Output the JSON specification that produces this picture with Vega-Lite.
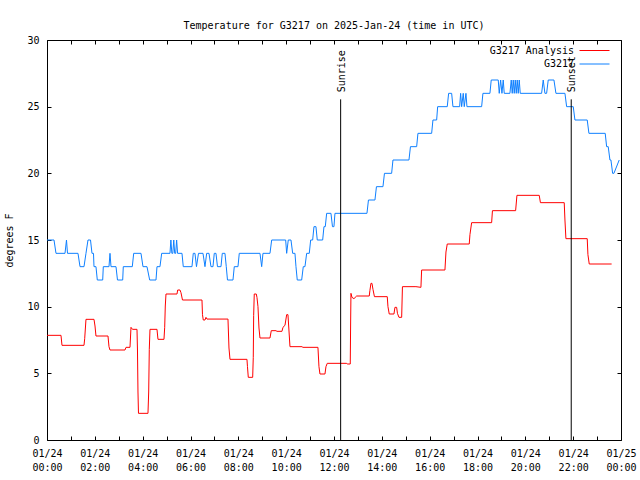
{
"$schema": "https://vega.github.io/schema/vega-lite/v6.json",
"autosize": {"type": "none"},
"width": 574, "height": 400,
"padding": {"left": 47, "top": 40, "right": 19, "bottom": 40},
"background": "white",
"title": {"text": "Temperature for G3217 on 2025-Jan-24 (time in UTC)", "font": "DejaVu Sans Mono", "fontSize": 10, "fontWeight": "normal", "color": "black", "anchor": "middle", "offset": 4},
"config": {
  "view": {"stroke": "black", "strokeWidth": 1},
  "axis": {"domain": false, "grid": false, "labelFont": "DejaVu Sans Mono", "labelFontSize": 10, "labelColor": "black", "tickColor": "black", "titleFont": "DejaVu Sans Mono", "titleFontSize": 10, "titleFontWeight": "normal", "titleColor": "black"}
},
"datasets": {
  "obs": [
{"s":"G3217","h":0,"t":15},{"s":"G3217","h":0.293,"t":15},{"s":"G3217","h":0.376,"t":14},{"s":"G3217","h":0.753,"t":14},{"s":"G3217","h":0.815,"t":15},{"s":"G3217","h":0.857,"t":14},{"s":"G3217","h":1.296,"t":14},{"s":"G3217","h":1.38,"t":13},{"s":"G3217","h":1.547,"t":13},{"s":"G3217","h":1.63,"t":14},{"s":"G3217","h":1.714,"t":15},{"s":"G3217","h":1.819,"t":15},{"s":"G3217","h":1.881,"t":14},{"s":"G3217","h":1.944,"t":14},{"s":"G3217","h":1.965,"t":13},{"s":"G3217","h":2.048,"t":13},{"s":"G3217","h":2.103,"t":12},{"s":"G3217","h":2.329,"t":12},{"s":"G3217","h":2.354,"t":13},{"s":"G3217","h":2.592,"t":13},{"s":"G3217","h":2.634,"t":14},{"s":"G3217","h":2.676,"t":13},{"s":"G3217","h":2.885,"t":13},{"s":"G3217","h":2.947,"t":12},{"s":"G3217","h":3.165,"t":12},{"s":"G3217","h":3.19,"t":13},{"s":"G3217","h":3.566,"t":13},{"s":"G3217","h":3.625,"t":14},{"s":"G3217","h":3.93,"t":14},{"s":"G3217","h":4.013,"t":13},{"s":"G3217","h":4.181,"t":13},{"s":"G3217","h":4.293,"t":12},{"s":"G3217","h":4.557,"t":12},{"s":"G3217","h":4.599,"t":13},{"s":"G3217","h":4.724,"t":13},{"s":"G3217","h":4.795,"t":14},{"s":"G3217","h":5.142,"t":14},{"s":"G3217","h":5.18,"t":15},{"s":"G3217","h":5.22,"t":14},{"s":"G3217","h":5.26,"t":14},{"s":"G3217","h":5.3,"t":15},{"s":"G3217","h":5.34,"t":14},{"s":"G3217","h":5.38,"t":14},{"s":"G3217","h":5.42,"t":15},{"s":"G3217","h":5.46,"t":14},{"s":"G3217","h":5.644,"t":14},{"s":"G3217","h":5.698,"t":13},{"s":"G3217","h":6.062,"t":13},{"s":"G3217","h":6.116,"t":14},{"s":"G3217","h":6.187,"t":14},{"s":"G3217","h":6.25,"t":13},{"s":"G3217","h":6.334,"t":14},{"s":"G3217","h":6.522,"t":14},{"s":"G3217","h":6.605,"t":13},{"s":"G3217","h":6.676,"t":14},{"s":"G3217","h":6.773,"t":14},{"s":"G3217","h":6.856,"t":13},{"s":"G3217","h":6.94,"t":13},{"s":"G3217","h":6.994,"t":14},{"s":"G3217","h":7.065,"t":14},{"s":"G3217","h":7.128,"t":13},{"s":"G3217","h":7.274,"t":13},{"s":"G3217","h":7.329,"t":14},{"s":"G3217","h":7.441,"t":14},{"s":"G3217","h":7.496,"t":13},{"s":"G3217","h":7.546,"t":12},{"s":"G3217","h":7.776,"t":12},{"s":"G3217","h":7.83,"t":13},{"s":"G3217","h":7.985,"t":13},{"s":"G3217","h":8.039,"t":14},{"s":"G3217","h":8.905,"t":14},{"s":"G3217","h":8.976,"t":13},{"s":"G3217","h":9.03,"t":14},{"s":"G3217","h":9.323,"t":14},{"s":"G3217","h":9.394,"t":15},{"s":"G3217","h":9.979,"t":15},{"s":"G3217","h":10.021,"t":14},{"s":"G3217","h":10.088,"t":15},{"s":"G3217","h":10.201,"t":15},{"s":"G3217","h":10.272,"t":14},{"s":"G3217","h":10.368,"t":14},{"s":"G3217","h":10.41,"t":13},{"s":"G3217","h":10.464,"t":12},{"s":"G3217","h":10.648,"t":12},{"s":"G3217","h":10.715,"t":13},{"s":"G3217","h":10.786,"t":13},{"s":"G3217","h":10.857,"t":14},{"s":"G3217","h":10.966,"t":14},{"s":"G3217","h":11.024,"t":15},{"s":"G3217","h":11.108,"t":15},{"s":"G3217","h":11.162,"t":16},{"s":"G3217","h":11.246,"t":16},{"s":"G3217","h":11.3,"t":15},{"s":"G3217","h":11.526,"t":15},{"s":"G3217","h":11.58,"t":16},{"s":"G3217","h":11.635,"t":16},{"s":"G3217","h":11.693,"t":17},{"s":"G3217","h":11.873,"t":17},{"s":"G3217","h":11.936,"t":16},{"s":"G3217","h":11.998,"t":16},{"s":"G3217","h":12.04,"t":17},{"s":"G3217","h":13.378,"t":17},{"s":"G3217","h":13.441,"t":18},{"s":"G3217","h":13.712,"t":18},{"s":"G3217","h":13.775,"t":19},{"s":"G3217","h":14.047,"t":19},{"s":"G3217","h":14.11,"t":20},{"s":"G3217","h":14.41,"t":20},{"s":"G3217","h":14.465,"t":21},{"s":"G3217","h":15.134,"t":21},{"s":"G3217","h":15.197,"t":22},{"s":"G3217","h":15.456,"t":22},{"s":"G3217","h":15.51,"t":23},{"s":"G3217","h":16.083,"t":23},{"s":"G3217","h":16.137,"t":24},{"s":"G3217","h":16.292,"t":24},{"s":"G3217","h":16.334,"t":25},{"s":"G3217","h":16.735,"t":25},{"s":"G3217","h":16.793,"t":26},{"s":"G3217","h":16.919,"t":26},{"s":"G3217","h":16.973,"t":25},{"s":"G3217","h":17.253,"t":25},{"s":"G3217","h":17.295,"t":26},{"s":"G3217","h":17.337,"t":25},{"s":"G3217","h":17.404,"t":26},{"s":"G3217","h":17.446,"t":25},{"s":"G3217","h":17.517,"t":26},{"s":"G3217","h":17.559,"t":25},{"s":"G3217","h":18.173,"t":25},{"s":"G3217","h":18.227,"t":26},{"s":"G3217","h":18.52,"t":26},{"s":"G3217","h":18.574,"t":27},{"s":"G3217","h":18.867,"t":27},{"s":"G3217","h":18.909,"t":26},{"s":"G3217","h":18.967,"t":27},{"s":"G3217","h":19.022,"t":26},{"s":"G3217","h":19.076,"t":27},{"s":"G3217","h":19.118,"t":26},{"s":"G3217","h":19.356,"t":26},{"s":"G3217","h":19.411,"t":27},{"s":"G3217","h":19.452,"t":26},{"s":"G3217","h":19.494,"t":27},{"s":"G3217","h":19.536,"t":26},{"s":"G3217","h":19.578,"t":27},{"s":"G3217","h":19.62,"t":26},{"s":"G3217","h":19.661,"t":27},{"s":"G3217","h":19.703,"t":26},{"s":"G3217","h":19.745,"t":27},{"s":"G3217","h":19.787,"t":26},{"s":"G3217","h":20.681,"t":26},{"s":"G3217","h":20.748,"t":27},{"s":"G3217","h":20.819,"t":26},{"s":"G3217","h":20.89,"t":26},{"s":"G3217","h":20.957,"t":27},{"s":"G3217","h":21.196,"t":27},{"s":"G3217","h":21.279,"t":26},{"s":"G3217","h":21.656,"t":26},{"s":"G3217","h":21.727,"t":25},{"s":"G3217","h":22.003,"t":25},{"s":"G3217","h":22.074,"t":24},{"s":"G3217","h":22.588,"t":24},{"s":"G3217","h":22.659,"t":23},{"s":"G3217","h":23.34,"t":23},{"s":"G3217","h":23.399,"t":22},{"s":"G3217","h":23.466,"t":22},{"s":"G3217","h":23.537,"t":21},{"s":"G3217","h":23.579,"t":21},{"s":"G3217","h":23.65,"t":20},{"s":"G3217","h":23.704,"t":20},{"s":"G3217","h":23.926,"t":21},
{"s":"G3217 Analysis","h":0,"t":7.85},{"s":"G3217 Analysis","h":0.585,"t":7.85},{"s":"G3217 Analysis","h":0.627,"t":7.1},{"s":"G3217 Analysis","h":1.547,"t":7.1},{"s":"G3217 Analysis","h":1.576,"t":7.6},{"s":"G3217 Analysis","h":1.63,"t":9.05},{"s":"G3217 Analysis","h":1.965,"t":9.05},{"s":"G3217 Analysis","h":2.007,"t":8.55},{"s":"G3217 Analysis","h":2.048,"t":7.8},{"s":"G3217 Analysis","h":2.55,"t":7.8},{"s":"G3217 Analysis","h":2.592,"t":7.0},{"s":"G3217 Analysis","h":2.634,"t":6.75},{"s":"G3217 Analysis","h":3.261,"t":6.75},{"s":"G3217 Analysis","h":3.303,"t":6.95},{"s":"G3217 Analysis","h":3.47,"t":6.95},{"s":"G3217 Analysis","h":3.512,"t":8.45},{"s":"G3217 Analysis","h":3.574,"t":8.3},{"s":"G3217 Analysis","h":3.763,"t":8.3},{"s":"G3217 Analysis","h":3.783,"t":6.75},{"s":"G3217 Analysis","h":3.804,"t":3.6},{"s":"G3217 Analysis","h":3.825,"t":2.0},{"s":"G3217 Analysis","h":4.222,"t":2.0},{"s":"G3217 Analysis","h":4.252,"t":3.6},{"s":"G3217 Analysis","h":4.277,"t":6.8},{"s":"G3217 Analysis","h":4.306,"t":8.3},{"s":"G3217 Analysis","h":4.599,"t":8.3},{"s":"G3217 Analysis","h":4.64,"t":7.55},{"s":"G3217 Analysis","h":4.891,"t":7.55},{"s":"G3217 Analysis","h":4.921,"t":8.45},{"s":"G3217 Analysis","h":4.946,"t":10.05},{"s":"G3217 Analysis","h":4.975,"t":10.95},{"s":"G3217 Analysis","h":5.435,"t":10.95},{"s":"G3217 Analysis","h":5.464,"t":11.25},{"s":"G3217 Analysis","h":5.56,"t":11.25},{"s":"G3217 Analysis","h":5.602,"t":11.05},{"s":"G3217 Analysis","h":5.665,"t":10.5},{"s":"G3217 Analysis","h":6.48,"t":10.5},{"s":"G3217 Analysis","h":6.501,"t":9.4},{"s":"G3217 Analysis","h":6.534,"t":9.0},{"s":"G3217 Analysis","h":6.605,"t":9.0},{"s":"G3217 Analysis","h":6.647,"t":9.2},{"s":"G3217 Analysis","h":6.689,"t":9.07},{"s":"G3217 Analysis","h":7.567,"t":9.07},{"s":"G3217 Analysis","h":7.609,"t":6.9},{"s":"G3217 Analysis","h":7.651,"t":6.05},{"s":"G3217 Analysis","h":8.361,"t":6.05},{"s":"G3217 Analysis","h":8.382,"t":5.5},{"s":"G3217 Analysis","h":8.416,"t":4.7},{"s":"G3217 Analysis","h":8.6,"t":4.7},{"s":"G3217 Analysis","h":8.625,"t":6.2},{"s":"G3217 Analysis","h":8.641,"t":9.35},{"s":"G3217 Analysis","h":8.666,"t":10.95},{"s":"G3217 Analysis","h":8.75,"t":10.95},{"s":"G3217 Analysis","h":8.779,"t":10.7},{"s":"G3217 Analysis","h":8.821,"t":10.0},{"s":"G3217 Analysis","h":8.863,"t":8.4},{"s":"G3217 Analysis","h":8.905,"t":7.65},{"s":"G3217 Analysis","h":9.323,"t":7.65},{"s":"G3217 Analysis","h":9.377,"t":8.2},{"s":"G3217 Analysis","h":9.574,"t":8.2},{"s":"G3217 Analysis","h":9.615,"t":8.15},{"s":"G3217 Analysis","h":9.824,"t":8.15},{"s":"G3217 Analysis","h":9.866,"t":8.45},{"s":"G3217 Analysis","h":9.95,"t":8.6},{"s":"G3217 Analysis","h":10.021,"t":9.4},{"s":"G3217 Analysis","h":10.075,"t":9.4},{"s":"G3217 Analysis","h":10.159,"t":7.0},{"s":"G3217 Analysis","h":10.661,"t":7.0},{"s":"G3217 Analysis","h":10.7,"t":6.95},{"s":"G3217 Analysis","h":11.329,"t":6.95},{"s":"G3217 Analysis","h":11.371,"t":5.5},{"s":"G3217 Analysis","h":11.413,"t":4.95},{"s":"G3217 Analysis","h":11.622,"t":4.95},{"s":"G3217 Analysis","h":11.664,"t":5.5},{"s":"G3217 Analysis","h":11.718,"t":5.75},{"s":"G3217 Analysis","h":12.529,"t":5.75},{"s":"G3217 Analysis","h":12.55,"t":5.7},{"s":"G3217 Analysis","h":12.68,"t":5.7},{"s":"G3217 Analysis","h":12.697,"t":9.0},{"s":"G3217 Analysis","h":12.709,"t":11.0},{"s":"G3217 Analysis","h":12.751,"t":10.7},{"s":"G3217 Analysis","h":12.834,"t":10.6},{"s":"G3217 Analysis","h":12.947,"t":10.8},{"s":"G3217 Analysis","h":13.474,"t":10.8},{"s":"G3217 Analysis","h":13.5,"t":11.2},{"s":"G3217 Analysis","h":13.545,"t":11.75},{"s":"G3217 Analysis","h":13.587,"t":11.75},{"s":"G3217 Analysis","h":13.63,"t":11.3},{"s":"G3217 Analysis","h":13.691,"t":10.75},{"s":"G3217 Analysis","h":14.227,"t":10.75},{"s":"G3217 Analysis","h":14.256,"t":10.0},{"s":"G3217 Analysis","h":14.31,"t":9.45},{"s":"G3217 Analysis","h":14.507,"t":9.45},{"s":"G3217 Analysis","h":14.548,"t":9.95},{"s":"G3217 Analysis","h":14.619,"t":9.95},{"s":"G3217 Analysis","h":14.653,"t":9.5},{"s":"G3217 Analysis","h":14.716,"t":9.2},{"s":"G3217 Analysis","h":14.829,"t":9.2},{"s":"G3217 Analysis","h":14.862,"t":11.5},{"s":"G3217 Analysis","h":15.426,"t":11.5},{"s":"G3217 Analysis","h":15.635,"t":11.45},{"s":"G3217 Analysis","h":15.664,"t":12.75},{"s":"G3217 Analysis","h":16.639,"t":12.75},{"s":"G3217 Analysis","h":16.681,"t":14.1},{"s":"G3217 Analysis","h":16.735,"t":14.7},{"s":"G3217 Analysis","h":17.655,"t":14.7},{"s":"G3217 Analysis","h":17.684,"t":15.4},{"s":"G3217 Analysis","h":17.755,"t":16.3},{"s":"G3217 Analysis","h":18.591,"t":16.3},{"s":"G3217 Analysis","h":18.625,"t":17.2},{"s":"G3217 Analysis","h":19.594,"t":17.2},{"s":"G3217 Analysis","h":19.649,"t":18.35},{"s":"G3217 Analysis","h":20.581,"t":18.35},{"s":"G3217 Analysis","h":20.631,"t":17.8},{"s":"G3217 Analysis","h":21.626,"t":17.8},{"s":"G3217 Analysis","h":21.656,"t":16.5},{"s":"G3217 Analysis","h":21.697,"t":15.1},{"s":"G3217 Analysis","h":22.588,"t":15.1},{"s":"G3217 Analysis","h":22.617,"t":13.9},{"s":"G3217 Analysis","h":22.672,"t":13.2},{"s":"G3217 Analysis","h":23.608,"t":13.2}
  ],
  "sun": [
    {"event": "Sunrise", "h": 12.278, "top": 25.55, "bottom": 0},
    {"event": "Sunset", "h": 21.919, "top": 25.55, "bottom": 0}
  ]
},
"layer": [
  {
    "data": {"name": "obs"},
    "mark": {"type": "line", "strokeWidth": 1, "interpolate": "linear"},
    "encoding": {
      "x": {"field": "h", "type": "quantitative", "scale": {"domain": [0, 24], "nice": false, "zero": false},
        "axis": {"orient": "bottom", "title": null, "values": [0,1,2,3,4,5,6,7,8,9,10,11,12,13,14,15,16,17,18,19,20,21,22,23,24],
          "labelExpr": "datum.value % 2 == 1 ? '' : [datum.value < 24 ? '01/24' : '01/25', ((datum.value % 24) < 10 ? '0' : '') + (datum.value % 24) + ':00']",
          "tickSize": -4,
          "labelPadding": 12, "labelLineHeight": 14, "labelFlush": false, "labelOverlap": false, "labelBaseline": "top"}},
      "y": {"field": "t", "type": "quantitative", "scale": {"domain": [0, 30], "nice": false},
        "axis": {"orient": "left", "title": "degrees F", "values": [0,5,10,15,20,25,30], "tickSize": -4, "labelPadding": 12, "titlePadding": 12}},
      "color": {"field": "s", "type": "nominal",
        "scale": {"domain": ["G3217 Analysis", "G3217"], "range": ["#ff0000", "#0f80ff"]},
        "legend": {"orient": "none", "legendX": 542, "legendY": 5, "title": null, "symbolType": "M-3,0H3", "symbolSize": 100, "symbolStrokeWidth": 1,
          "labelAlign": "right", "labelOffset": -26, "labelFont": "DejaVu Sans Mono", "labelFontSize": 10, "labelColor": "black",
          "rowPadding": 2.5, "padding": 0}}
    }
  },
  {
    "data": {"name": "sun"},
    "mark": {"type": "rule", "color": "black", "strokeWidth": 1},
    "encoding": {
      "x": {"field": "h", "type": "quantitative",
        "axis": {"orient": "top", "title": null, "labels": false, "values": [0,1,2,3,4,5,6,7,8,9,10,11,12,13,14,15,16,17,18,19,20,21,22,23,24],
          "tickSize": -4}},
      "y": {"field": "top", "type": "quantitative",
        "axis": {"orient": "right", "title": null, "labels": false, "values": [0,5,10,15,20,25,30], "tickSize": -4}},
      "y2": {"field": "bottom"}
    }
  },
  {
    "data": {"name": "sun"},
    "mark": {"type": "text", "angle": 270, "align": "left", "baseline": "middle", "dx": 7, "dy": 1, "font": "DejaVu Sans Mono", "fontSize": 10, "color": "black"},
    "encoding": {
      "x": {"field": "h", "type": "quantitative", "axis": null},
      "y": {"field": "top", "type": "quantitative", "axis": null},
      "text": {"field": "event"}
    }
  }
],
"resolve": {"axis": {"x": "independent", "y": "independent"}}
}
